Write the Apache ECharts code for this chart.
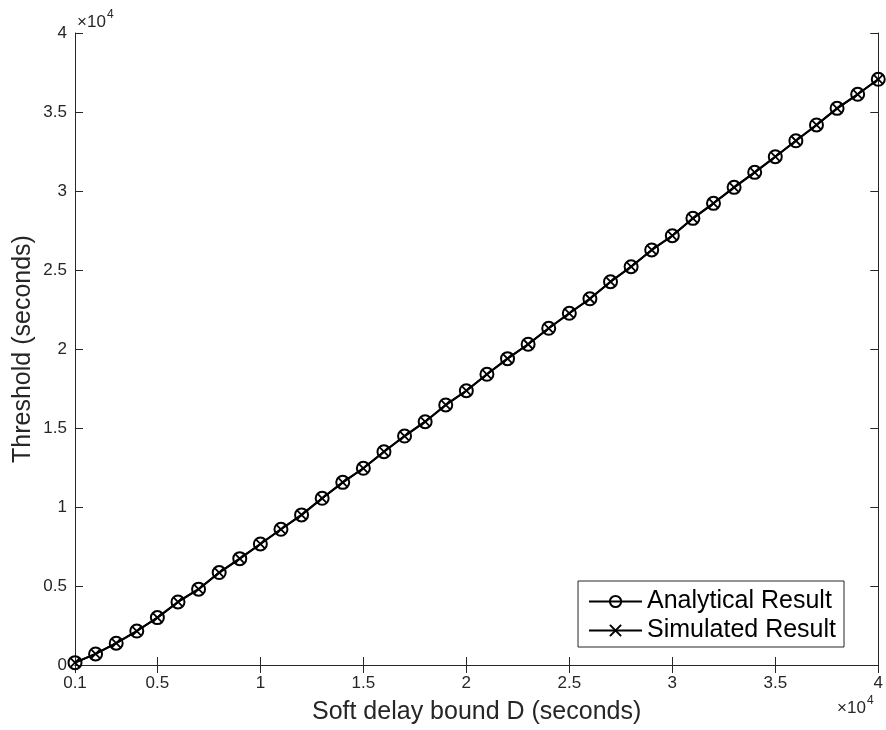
<!DOCTYPE html>
<html>
<head>
<meta charset="utf-8">
<script src="https://cdn.jsdelivr.net/npm/echarts@6/dist/echarts.min.js"></script>
<style>
  html, body { margin: 0; padding: 0; background: #fff; }
  #chart { width: 886px; height: 730px; }
</style>
</head>
<body>
<div id="chart"></div>
<script>
// Soft delay bound D (seconds)
const delayBound = [
  1000, 2000, 3000, 4000, 5000, 6000, 7000, 8000, 9000, 10000,
  11000, 12000, 13000, 14000, 15000, 16000, 17000, 18000, 19000, 20000,
  21000, 22000, 23000, 24000, 25000, 26000, 27000, 28000, 29000, 30000,
  31000, 32000, 33000, 34000, 35000, 36000, 37000, 38000, 39000, 40000
];
// Threshold (seconds), analytical model
const analyticalThreshold = [
  150, 700, 1380, 2150, 3000, 3990, 4800, 5850, 6730, 7660,
  8590, 9500, 10550, 11560, 12450, 13500, 14490, 15400, 16460, 17360,
  18400, 19390, 20300, 21310, 22260, 23180, 24260, 25210, 26270, 27170,
  28270, 29220, 30230, 31180, 32170, 33180, 34180, 35230, 36120, 37070
];
// Threshold (seconds), simulation
const simulatedThreshold = [
  150, 700, 1380, 2150, 3000, 3990, 4800, 5850, 6730, 7660,
  8590, 9500, 10550, 11560, 12450, 13500, 14490, 15400, 16460, 17360,
  18400, 19390, 20300, 21310, 22260, 23180, 24260, 25210, 26270, 27170,
  28270, 29220, 30230, 31180, 32170, 33180, 34180, 35230, 36120, 37070
];
// Tick positions on the D axis
const xTicks = [1000, 5000, 10000, 15000, 20000, 25000, 30000, 35000, 40000];
const axisScale = 10000;

const FONT = '"Liberation Sans", Arial, Helvetica, sans-serif';
const INK = '#262626';

const pairs = (xs, ys) => xs.map((x, i) => [x, ys[i]]);
const fmt = v => String(+(v / axisScale).toFixed(2));

const chart = echarts.init(document.getElementById('chart'), null, { renderer: 'canvas' });

const tickStyle = { show: true, inside: true, length: 8, lineStyle: { color: INK, width: 1 } };
const lineStyle = { show: true, lineStyle: { color: INK, width: 1 } };

// "×10^4" exponent marker drawn as base text plus raised superscript
const exponentMark = (x, y) => [
  { type: 'text', left: x, top: y,
    style: { text: '×10', fontFamily: FONT, fontSize: 17, fill: INK } },
  { type: 'text', left: x + 30, top: y - 5,
    style: { text: '4', fontFamily: FONT, fontSize: 12, fill: INK } }
];

chart.setOption({
  animation: false,
  backgroundColor: '#fff',
  grid: { left: 75, right: 7, top: 33, bottom: 65, containLabel: false },
  xAxis: [
    {
      type: 'value', position: 'bottom', min: 1000, max: 40000,
      axisLine: lineStyle,
      axisTick: Object.assign({ customValues: xTicks }, tickStyle),
      axisLabel: {
        customValues: xTicks, formatter: fmt, margin: 10,
        fontFamily: FONT, fontSize: 17, color: INK
      },
      splitLine: { show: false },
      name: 'Soft delay bound D (seconds)', nameLocation: 'middle', nameGap: 35,
      nameMoveOverlap: false,
      nameTextStyle: { fontFamily: FONT, fontSize: 25, color: INK }
    },
    {
      type: 'value', position: 'top', min: 1000, max: 40000,
      axisLine: lineStyle,
      axisTick: Object.assign({ customValues: xTicks }, tickStyle),
      axisLabel: { show: false },
      splitLine: { show: false }
    }
  ],
  yAxis: [
    {
      type: 'value', position: 'left', min: 0, max: 40000, interval: 5000,
      axisLine: lineStyle,
      axisTick: tickStyle,
      axisLabel: { formatter: fmt, margin: 8, fontFamily: FONT, fontSize: 17, color: INK },
      splitLine: { show: false },
      name: 'Threshold (seconds)', nameLocation: 'middle', nameGap: 39,
      nameMoveOverlap: false,
      nameTextStyle: { fontFamily: FONT, fontSize: 25, color: INK }
    },
    {
      type: 'value', position: 'right', min: 0, max: 40000, interval: 5000,
      axisLine: lineStyle,
      axisTick: tickStyle,
      axisLabel: { show: false },
      splitLine: { show: false }
    }
  ],
  legend: {
    orient: 'vertical', right: 42, bottom: 83,
    backgroundColor: '#fff', borderColor: INK, borderWidth: 1,
    padding: [8, 8, 4, 10], itemWidth: 53, itemHeight: 14, itemGap: 4,
    textStyle: { fontFamily: FONT, fontSize: 25, color: '#000' },
    data: ['Analytical Result', 'Simulated Result']
  },
  graphic: exponentMark(77, 14).concat(exponentMark(837, 700)),
  series: [
    {
      name: 'Analytical Result', type: 'line',
      data: pairs(delayBound, analyticalThreshold),
      symbol: 'circle', symbolSize: 13, showSymbol: true,
      lineStyle: { color: '#000', width: 2 },
      itemStyle: { color: 'rgba(0,0,0,0)', borderColor: '#000', borderWidth: 2 },
      z: 2
    },
    {
      name: 'Simulated Result', type: 'line',
      data: pairs(delayBound, simulatedThreshold),
      symbol: 'path://M0,0L10,10M10,0L0,10', symbolSize: 9, showSymbol: true,
      lineStyle: { color: '#000', width: 2 },
      itemStyle: { color: 'rgba(0,0,0,0)', borderColor: '#000', borderWidth: 1.8 },
      z: 3
    }
  ]
});
</script>
</body>
</html>
